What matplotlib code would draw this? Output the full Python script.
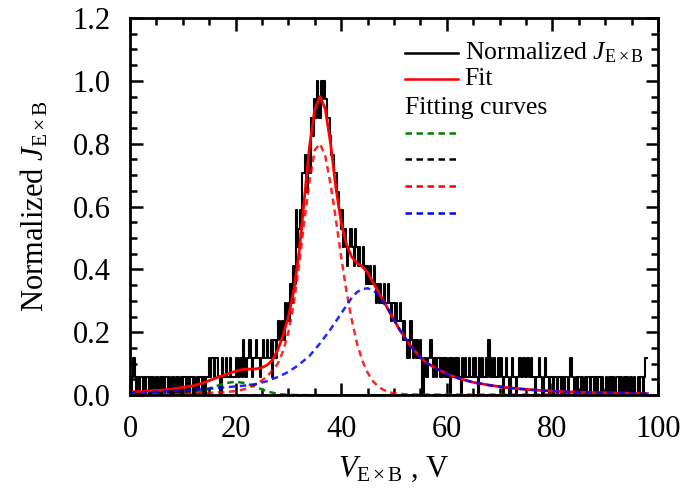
import matplotlib
matplotlib.use("Agg")
import matplotlib.pyplot as plt
import numpy as np
from matplotlib.ticker import MultipleLocator, FormatStrFormatter

plt.rcParams['font.family'] = 'Liberation Serif'
plt.rcParams['mathtext.fontset'] = 'custom'
plt.rcParams['mathtext.rm'] = 'Liberation Serif'
plt.rcParams['mathtext.it'] = 'Liberation Serif:italic'

# measured signal: counts per 0.25 V bin, 0 .. 98 V (normalised by the peak count)
v_data = np.arange(0, 98.01, 0.25)
counts = [
    # 0-10 V
    1, 0, 1, 2, 1, 0, 1, 0, 1, 1, 0, 1, 0, 1, 1, 0, 1, 0, 1, 0,
    1, 1, 0, 1, 0, 1, 0, 1, 1, 0, 1, 0, 1, 1, 0, 1, 0, 1, 0, 1,
    # 10-20 V
    0, 1, 1, 0, 1, 0, 1, 1, 0, 1, 0, 1, 0, 1, 1, 0, 1, 0, 1, 1,
    2, 1, 2, 2, 1, 2, 2, 1, 1, 0, 2, 1, 1, 2, 1, 1, 2, 1, 1, 1,
    # 20-30 V
    1, 2, 1, 1, 2, 1, 3, 2, 1, 2, 2, 3, 2, 1, 2, 2, 3, 2, 2, 1,
    2, 3, 2, 2, 3, 2, 2, 3, 1, 3, 3, 2, 3, 4, 3, 3, 4, 3, 5, 4,
    # 30-40 V
    5, 4, 6, 5, 7, 6, 10, 8, 9, 10, 9, 12, 12, 13, 11, 13, 13, 12, 15, 14,
    16, 15, 17, 16, 15, 17, 16, 17, 16, 16, 15, 15, 14, 13, 13, 12, 12, 11, 11, 10,
    # 40-50 V
    9, 10, 8, 9, 8, 7, 8, 9, 9, 8, 7, 9, 8, 7, 8, 7, 7, 8, 7, 6,
    7, 6, 7, 6, 6, 7, 6, 5, 6, 5, 6, 5, 5, 6, 5, 5, 6, 5, 4, 5,
    # 50-60 V
    5, 4, 5, 4, 4, 5, 4, 3, 4, 3, 2, 3, 2, 4, 3, 2, 3, 2, 3, 2,
    3, 2, 0, 2, 2, 1, 2, 2, 3, 2, 1, 2, 1, 2, 2, 1, 2, 1, 2, 1,
    # 60-70 V
    2, 1, 2, 0, 2, 1, 1, 2, 1, 2, 1, 0, 2, 1, 2, 1, 1, 2, 1, 1,
    2, 1, 2, 1, 0, 2, 1, 2, 1, 1, 2, 1, 3, 1, 2, 1, 2, 1, 1, 2,
    # 70-80 V
    1, 2, 1, 0, 1, 2, 1, 1, 0, 1, 2, 1, 1, 0, 1, 2, 2, 1, 2, 2,
    1, 2, 2, 1, 2, 1, 1, 0, 1, 1, 2, 1, 1, 0, 1, 2, 1, 1, 0, 1,
    # 80-90 V
    1, 0, 1, 1, 0, 1, 1, 0, 1, 0, 1, 1, 0, 1, 2, 1, 1, 0, 1, 0,
    1, 1, 0, 1, 0, 1, 0, 1, 1, 0, 1, 1, 0, 1, 0, 1, 1, 0, 1, 0,
    # 90-98 V
    0, 1, 0, 1, 1, 0, 1, 0, 0, 1, 1, 0, 1, 0, 0, 1, 0, 1, 0, 1,
    1, 0, 1, 0, 0, 1, 0, 1, 1, 0, 1, 2, 2]
norm = np.array(counts) / max(counts)

# total fit
v_fit = [0, 2, 4, 6, 8, 10, 12, 14, 16, 18, 19, 20, 21, 22, 23, 24, 25, 26, 27, 28,
         29, 30, 31, 32, 33, 34, 35, 36, 37, 38, 39, 40, 41, 42, 43, 44, 45, 46, 47, 48,
         49, 50, 51, 52, 53, 54, 55, 56, 58, 60, 62, 65, 68, 71, 74, 77, 80, 84, 88, 92, 98]
fit = [0.010, 0.012, 0.014, 0.016, 0.020, 0.025, 0.030, 0.040, 0.053, 0.065, 0.071, 0.076,
       0.081, 0.083, 0.083, 0.084, 0.088, 0.096, 0.112, 0.145, 0.19, 0.25, 0.33, 0.45, 0.62,
       0.79, 0.91, 0.95, 0.91, 0.80, 0.66, 0.55, 0.48, 0.44, 0.42, 0.41, 0.39, 0.36, 0.33,
       0.30, 0.27, 0.24, 0.21, 0.185, 0.16, 0.14, 0.12, 0.105, 0.085, 0.068, 0.055, 0.041,
       0.032, 0.025, 0.020, 0.016, 0.013, 0.010, 0.008, 0.007, 0.005]

# fitting components
v_green = [0, 8, 10, 12, 14, 16, 18, 20, 22, 24, 26, 28, 30, 34, 98]
green = [0.0, 0.0, 0.002, 0.005, 0.015, 0.027, 0.038, 0.043, 0.038, 0.025, 0.012, 0.004,
         0.001, 0.0, 0.0]

v_black = [0, 98]
black = [0.0, 0.0]

v_red = [0, 10, 16, 18, 20, 22, 24, 26, 28, 29, 30, 31, 32, 33, 34, 35, 36, 37, 38, 39,
         40, 41, 42, 43, 44, 45, 46, 47, 48, 49, 50, 52, 55, 98]
red = [0.002, 0.004, 0.008, 0.010, 0.013, 0.020, 0.035, 0.060, 0.100, 0.14, 0.20, 0.29,
       0.41, 0.55, 0.68, 0.78, 0.80, 0.76, 0.67, 0.56, 0.44, 0.33, 0.24, 0.165, 0.11,
       0.072, 0.045, 0.028, 0.017, 0.010, 0.006, 0.003, 0.002, 0.002]

v_blue = [0, 4, 8, 12, 16, 20, 22, 24, 26, 28, 30, 32, 34, 36, 38, 40, 41, 42, 43, 44,
          45, 46, 47, 48, 49, 50, 51, 52, 53, 54, 55, 56, 58, 60, 62, 65, 68, 71, 74, 77,
          80, 84, 88, 92, 98]
blue = [0.008, 0.010, 0.013, 0.017, 0.022, 0.028, 0.031, 0.036, 0.045, 0.058, 0.074, 0.097,
        0.125, 0.165, 0.21, 0.26, 0.285, 0.31, 0.328, 0.338, 0.34, 0.335, 0.32, 0.295, 0.27,
        0.24, 0.21, 0.185, 0.16, 0.14, 0.12, 0.105, 0.085, 0.068, 0.055, 0.041, 0.032, 0.025,
        0.020, 0.016, 0.013, 0.010, 0.008, 0.007, 0.005]

fig = plt.figure(figsize=(6.84, 4.99), dpi=100)
ax = fig.add_axes([0.19, 0.208, 0.772, 0.756])

ax.plot(v_data, norm, color='black', lw=1.5, drawstyle='steps-mid')
ax.plot(v_fit, fit, color='red', lw=2)
dash = (2.6, 1.8)
ax.plot(v_green, green, color='green', lw=1.8, dashes=dash)
ax.plot(v_black, black, color='black', lw=1.8, dashes=dash)
ax.plot(v_red, red, color='red', lw=1.8, dashes=dash, alpha=0.85)
ax.plot(v_blue, blue, color='blue', lw=1.8, dashes=dash, alpha=0.85)

ax.set_xlim(0, 100)
ax.set_ylim(0, 1.2)
ax.xaxis.set_major_locator(MultipleLocator(20))
ax.xaxis.set_minor_locator(MultipleLocator(5))
ax.yaxis.set_major_locator(MultipleLocator(0.2))
ax.yaxis.set_minor_locator(MultipleLocator(0.05))
ax.yaxis.set_major_formatter(FormatStrFormatter('%.1f'))
ax.tick_params(which='both', direction='in', top=True, right=True, width=1.8, labelsize=22)
ax.tick_params(which='major', length=9)
ax.tick_params(which='minor', length=5)
ax.tick_params(axis='x', pad=14)
ax.tick_params(axis='y', pad=14)
for s in ax.spines.values():
    s.set_linewidth(2)

ax.set_xlabel(r'$V_{\rm E\times B}$ , V', fontsize=22, labelpad=8)
ax.set_ylabel(r'Normalized $J_{\rm E\times B}$', fontsize=22, labelpad=16)

# legend drawn by hand
tr = ax.transAxes
hx = [0.521, 0.621]
ax.plot(hx, [0.907, 0.907], color='black', lw=1.8, transform=tr)
ax.text(0.634, 0.907, r'Normalized $J_{\rm E\times B}$', transform=tr, fontsize=18.5, va='center')
ax.plot(hx, [0.838, 0.838], color='red', lw=1.8, transform=tr)
ax.text(0.634, 0.838, 'Fit', transform=tr, fontsize=18.5, va='center')
ax.text(0.521, 0.761, 'Fitting curves', transform=tr, fontsize=18.5, va='center')
for yy, c in zip([0.695, 0.626, 0.554, 0.483], ['green', 'black', 'red', 'blue']):
    ax.plot(hx, [yy, yy], color=c, lw=1.8, dashes=dash, transform=tr)

fig.savefig('out.png', dpi=100)
